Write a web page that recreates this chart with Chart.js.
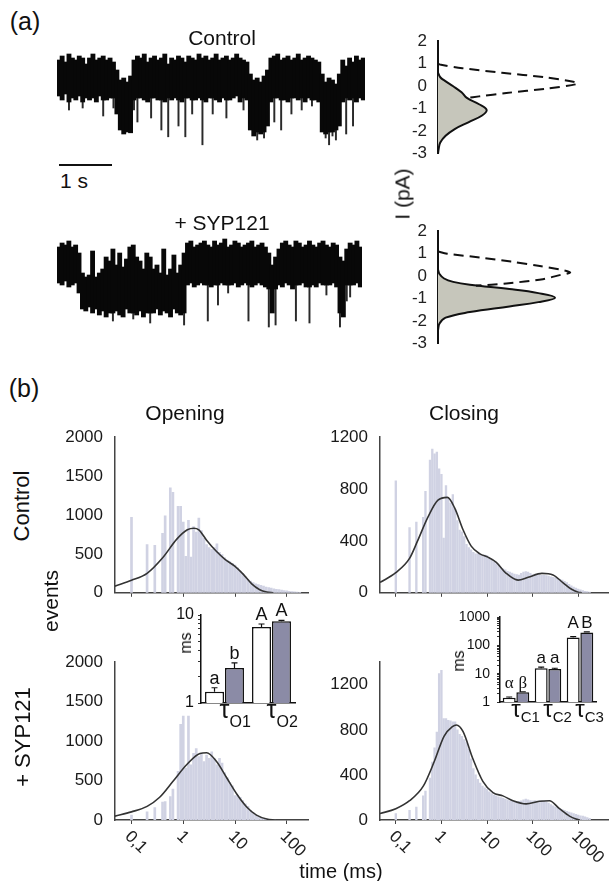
<!DOCTYPE html>
<html>
<head>
<meta charset="utf-8">
<script src="https://cdn.jsdelivr.net/npm/chart.js@4.4.1/dist/chart.umd.min.js"></script>
<style>
  body { margin: 0; background: #fff; }
  #fig { position: relative; width: 609px; height: 881px; overflow: hidden; font-family: "Liberation Sans", Arial, sans-serif; color: #111; }
  #fig canvas { position: absolute; }
  .t { position: absolute; white-space: nowrap; line-height: 1; transform: translate(-50%, -50%); }
</style>
</head>
<body>
<div id="fig">
  <canvas id="traceCtrl" width="308" height="120" style="left:57px;top:40px"></canvas>
  <canvas id="traceSyp" width="305" height="110" style="left:57px;top:230px"></canvas>
  <canvas id="gaussCtrl" width="200" height="155" style="left:400px;top:20px"></canvas>
  <canvas id="gaussSyp" width="200" height="155" style="left:400px;top:210px"></canvas>
  <canvas id="openCtrl" width="280" height="200" style="left:40px;top:415px"></canvas>
  <canvas id="closeCtrl" width="309" height="200" style="left:300px;top:415px"></canvas>
  <canvas id="openSyp" width="280" height="230" style="left:40px;top:640px"></canvas>
  <canvas id="closeSyp" width="309" height="230" style="left:300px;top:640px"></canvas>
  <canvas id="insetOpen" width="135" height="130" style="left:170px;top:600px"></canvas>
  <canvas id="insetClose" width="169" height="130" style="left:440px;top:600px"></canvas>
</div>
<script>
const FONT = '"Liberation Sans", Arial, sans-serif';
const SERIF = '"Liberation Serif", "DejaVu Serif", serif';
Chart.defaults.font.family = FONT;

// (a) single channel traces in pA: band top / band bottom / brief drops per time slice
const ctrlHi = [
  0.45,0.55,0.4,0.6,0.5,0.45,0.55,0.5,0.35,0.5,
  0.6,0.45,0.5,0.55,0.45,0.5,0.4,0.2,-0.05,0.0,
  -0.1,0.05,0.45,0.55,0.5,0.6,0.4,0.5,0.55,0.45,
  0.5,0.6,0.35,0.5,0.45,0.55,0.5,0.4,0.55,0.5,
  0.45,0.6,0.5,0.55,0.45,0.5,0.6,0.45,0.5,0.55,
  0.45,0.5,0.6,0.5,0.45,0.4,0.1,-0.05,0.0,-0.1,
  0.05,0.2,0.5,0.55,0.6,0.45,0.5,0.55,0.45,0.5,
  0.6,0.45,0.5,0.55,0.5,0.45,0.4,0.1,-0.1,0.0,
  -0.05,-0.15,0.1,0.45,0.3,0.5,0.4,0.55,0.45,0.5
];
const ctrlLo = [
  -0.45,-0.55,-0.4,-0.6,-0.5,-0.55,-0.45,-0.6,-0.5,-0.55,
  -0.5,-0.6,-0.45,-0.55,-0.55,-0.5,-0.5,-0.9,-1.3,-1.4,
  -1.35,-1.37,-0.55,-0.5,-0.5,-0.55,-0.6,-0.5,-0.5,-0.55,
  -0.55,-0.6,-0.5,-0.55,-0.5,-0.55,-0.6,-0.5,-0.5,-0.55,
  -0.55,-0.5,-0.55,-0.6,-0.5,-0.5,-0.55,-0.6,-0.5,-0.55,
  -0.55,-0.5,-0.45,-0.6,-0.5,-0.55,-1.3,-1.45,-1.35,-1.4,
  -1.35,-1.2,-0.6,-0.5,-0.5,-0.55,-0.55,-0.6,-0.5,-0.5,
  -0.55,-0.5,-0.6,-0.5,-0.55,-0.55,-0.6,-1.35,-1.4,-1.35,
  -1.35,-1.3,-1.2,-0.6,-0.5,-0.55,-0.5,-0.6,-0.5,-0.55
];
const ctrlDrop = [
  null,null,null,-0.8,null,null,null,-0.75,null,null,
  null,null,null,-0.95,null,null,-0.75,null,null,null,
  null,null,-0.8,-1.1,null,null,null,-1.0,null,null,
  -1.3,null,-1.47,null,null,-1.2,null,-1.47,null,-0.9,
  null,null,-1.67,null,null,-0.9,null,null,null,-1.0,
  null,null,null,null,-0.8,null,null,null,-1.55,null,
  -1.5,null,null,-1.1,null,-1.3,null,null,-0.9,null,
  null,-0.8,null,null,-0.7,null,null,null,-1.5,-1.67,
  -1.45,-1.55,null,null,-1.4,null,-1.2,null,null,null
];
const sypHi = [
  0.45,0.55,0.5,0.6,0.45,0.5,0.3,-0.2,-0.3,-0.25,
  0.35,-0.3,-0.2,-0.1,0.2,0.1,0.4,0.0,0.3,-0.05,
  0.15,0.45,0.5,0.2,0.1,-0.1,0.3,0.2,-0.1,0.0,
  -0.2,0.4,-0.25,-0.1,0.25,-0.2,0.0,0.3,0.55,0.6,
  0.45,0.5,0.55,0.6,0.5,0.45,0.6,0.5,0.55,0.65,
  0.45,0.5,0.6,0.55,0.45,0.5,0.55,0.6,0.45,0.5,
  0.55,0.45,0.3,0.0,0.2,0.4,0.55,0.6,0.5,0.45,
  0.6,0.55,0.45,0.5,0.6,0.5,0.45,0.55,0.6,0.5,
  0.45,0.55,0.5,0.2,0.1,0.4,0.55,0.5,0.6,0.45
];
const sypLo = [
  -0.45,-0.5,-0.4,-0.55,-0.5,-0.45,-0.7,-1.1,-1.15,-1.05,
  -1.2,-1.1,-1.25,-1.15,-1.3,-1.2,-1.2,-1.15,-1.25,-1.3,
  -1.1,-1.2,-1.2,-1.25,-1.15,-1.3,-1.2,-1.2,-1.2,-1.1,
  -1.25,-1.15,-1.2,-1.3,-1.1,-1.2,-1.25,-1.2,-0.5,-0.45,
  -0.55,-0.5,-0.45,-0.5,-0.5,-0.55,-0.5,-0.5,-0.45,-0.5,
  -0.5,-0.5,-0.45,-0.55,-0.5,-0.45,-0.5,-0.55,-0.5,-0.45,
  -0.5,-0.55,-0.6,-1.2,-0.6,-0.5,-0.55,-0.45,-0.5,-0.6,
  -0.5,-0.5,-0.45,-0.55,-0.55,-0.5,-0.55,-0.45,-0.5,-0.5,
  -0.5,-0.45,-0.55,-1.2,-1.3,-0.5,-0.5,-0.5,-0.45,-0.55
];
const sypDrop = [
  null,null,null,null,null,null,null,null,null,null,
  null,null,null,null,null,null,-1.4,null,null,null,
  null,null,-1.35,null,null,null,null,-1.45,null,null,
  null,null,null,null,null,null,null,-1.5,null,null,
  null,null,null,null,-1.4,null,null,-1.0,null,null,
  -0.7,null,null,null,null,null,-1.4,null,null,null,
  null,null,-1.55,null,-1.5,null,null,null,null,null,
  -1.4,null,null,null,-1.45,null,null,null,null,-0.75,
  null,null,null,-1.55,null,-0.9,-0.8,null,null,null
];

// amplitude histograms (current in pA vs. relative density)
const gCtrlDashI = [1.0,0.95,0.8,0.6,0.4,0.2,0.12,0.05,-0.1,-0.3,-0.45,-0.52];
const gCtrlDashD = [0,0.02,0.16,0.42,0.7,0.89,0.92,0.88,0.72,0.45,0.27,0.19];
const gCtrlFillI = [0.6,0.4,0.24,0.0,-0.27,-0.52,-0.8,-1.05,-1.3,-1.6,-1.9,-2.2,-2.5,-2.8,-3.0];
const gCtrlFillD = [0,0.015,0.046,0.1,0.155,0.19,0.27,0.32,0.29,0.2,0.11,0.05,0.015,0.004,0];
const gSypDashI = [1.1,1.0,0.83,0.65,0.45,0.3,0.17,0.05,-0.13,-0.32,-0.42];
const gSypDashD = [0,0.06,0.28,0.48,0.67,0.8,0.87,0.8,0.69,0.45,0.25];
const gSypFillI = [0.3,0.1,-0.1,-0.25,-0.38,-0.57,-0.75,-0.95,-1.15,-1.34,-1.59,-1.84,-2.1,-2.4];
const gSypFillD = [0,0.01,0.04,0.1,0.21,0.47,0.66,0.77,0.66,0.47,0.21,0.05,0.01,0];

// (b) dwell time histograms, bin centres in ms (20 per decade)
const binMs = [
  0.1,0.112,0.126,0.141,0.158,0.178,0.2,0.224,0.251,0.282,
  0.316,0.355,0.398,0.447,0.501,0.562,0.631,0.708,0.794,0.891,
  1,1.12,1.26,1.41,1.58,1.78,2,2.24,2.51,2.82,
  3.16,3.55,3.98,4.47,5.01,5.62,6.31,7.08,7.94,8.91,
  10,11.2,12.6,14.1,15.8,17.8,20,22.4,25.1,28.2,
  31.6,35.5,39.8,44.7,50.1,56.2,63.1,70.8,79.4,89.1,
  100,112,126,141,158,178,200,224,251,282,
  316,355,398,447,501,562,631,708,794,891,
  1000,1120,1260,1410,1580,1780
];
const openCtrlN = [
  970,0,0,0,0,0,620,0,0,610,
  0,0,765,990,0,1350,1290,0,1110,1110,
  910,470,930,460,850,780,960,800,700,620,
  580,560,580,630,520,490,450,420,400,380,
  355,320,280,250,210,170,150,130,115,105,
  95,85,75,68,60,52,45,40,35,30,
  25,20,15,12,8,5
];
const closeCtrlN = [
  864,0,0,0,0,0,503,0,0,545,
  0,0,582,783,0,1023,1109,1072,1085,957,
  913,422,827,729,692,758,643,557,484,471,
  434,373,349,331,312,300,300,295,287,290,
  287,263,250,238,225,213,194,185,177,165,
  160,152,145,140,137,150,160,164,160,150,
  140,145,140,137,135,135,132,128,124,120,
  115,110,104,98,88,79,65,54,44,37,
  29,22,17,12,9,6
];
const openSypN = [
  62,0,0,0,0,0,103,0,0,156,
  0,0,226,235,0,296,391,0,617,1214,
  1317,658,1317,700,844,905,803,844,741,823,
  782,864,782,700,782,720,597,535,473,432,
  309,309,288,247,206,173,124,90,62,41,
  30,21,15,10,6,4
];
const closeSypN = [
  57,0,0,0,0,0,86,0,0,114,
  0,0,214,257,0,371,514,640,780,1300,
  1328,900,900,885,880,871,871,800,760,743,
  714,686,628,543,457,400,360,328,300,285,
  271,250,235,222,214,205,200,195,186,178,
  171,165,157,157,165,171,180,186,178,172,
  171,172,170,168,171,166,160,150,137,125,
  114,107,100,93,86,78,71,64,57,50,
  43,38,34,28,22,14
];

// fitted curves
const openCtrlFitT = [0.048,0.1,0.2,0.4,0.75,1.2,1.6,2.0,2.8,4.4,6.4,10,14.5,21,30,41,55];
const openCtrlFitN = [85,160,250,450,690,810,830,810,680,530,430,340,237,115,40,10,0];
const closeCtrlFitT = [0.045,0.1,0.2,0.3,0.5,0.84,1.35,1.95,3,4.5,7,10.5,16,26,48,80,160,280,460,700,1000,1200];
const closeCtrlFitN = [80,155,265,400,580,715,736,655,484,360,300,275,235,152,98,120,150,138,79,29,5,0];
const openSypFitT = [0.048,0.1,0.2,0.35,0.64,1.16,2.1,2.83,4.4,6.9,10.8,16.8,26,41,60];
const openSypFitN = [49,103,173,288,494,700,844,852,741,535,329,165,62,12,0];
const closeSypFitT = [0.045,0.1,0.2,0.4,0.69,1.14,1.74,2.13,2.97,4.9,8.1,13.5,22.3,37,72,141,234,388,645,895,1100];
const closeSypFitN = [57,100,171,300,514,743,828,843,786,543,343,243,214,171,143,166,171,100,34,9,0];

const decadesOpen = [0.1, 1, 10, 100];
const decadesClose = [0.1, 1, 10, 100, 1000];
const decadeLabels = ['0,1', '1', '10', '100', '1000'];

// insets: time constants (ms), control vs + SYP121
const openTau = ['O1', 'O2'];
const openTauCtrl = [1.34, 7.3];
const openTauSyp = [2.5, 8.5];
const openTauCtrlErr = [0.15, 0.6];
const openTauSypErr = [0.35, 0.2];
const openLetters = [['a', 'A'], ['b', 'A']];
const closeTau = ['C1', 'C2', 'C3'];
const closeTauCtrl = [1.4, 15.5, 190];
const closeTauSyp = [2.2, 14.5, 285];
const closeTauCtrlErr = [0.1, 1.5, 12];
const closeTauSypErr = [0.1, 1.0, 15];
const closeLetters = [['α', 'a', 'A'], ['β', 'a', 'B']];
const openInsetTicks = [1,2,3,4,5,6,7,8,9,10];
const closeInsetTicks = [1,2,3,4,5,6,7,8,9,10,20,30,40,50,60,70,80,90,100,200,300,400,500,600,700,800,900,1000];

const pts = (xs, ys) => xs.map((x, i) => ({x: x, y: ys[i]}));

//----- traces: dense band as floating bars, brief closures as thin bars
function trace(id, hi, lo, drop, yMin, yMax) {
  new Chart(id, {
    type: 'bar',
    data: {
      labels: hi.map((_, i) => i),
      datasets: [
        { data: hi.map((v, i) => [lo[i], v]), backgroundColor: '#080808', borderWidth: 0,
          barThickness: 4.2, grouped: false },
        { data: drop.map((v, i) => (v === null ? null : [v, lo[i]])), backgroundColor: '#2a2a2a', borderWidth: 0,
          barThickness: 1.3, grouped: false }
      ]
    },
    options: {
      responsive: false, animation: false, events: [],
      layout: { padding: 0 },
      plugins: { legend: { display: false }, tooltip: { enabled: false } },
      scales: {
        x: { display: false },
        y: { display: false, min: yMin, max: yMax }
      }
    }
  });
}
trace('traceCtrl', ctrlHi, ctrlLo, ctrlDrop, -2.05, 0.95);
trace('traceSyp', sypHi, sypLo, sypDrop, -1.875, 0.875);

//----- amplitude gaussians
function gauss(id, dashI, dashD, fillI, fillD) {
  new Chart(id, {
    type: 'scatter',
    data: {
      datasets: [
        { data: pts(dashD, dashI), showLine: true, borderColor: '#111', borderWidth: 2, borderDash: [10, 6], pointRadius: 0, tension: 0.3, fill: false },
        { data: pts(fillD, fillI), showLine: true, borderColor: '#111', borderWidth: 2, pointRadius: 0, tension: 0.4, fill: 'shape', backgroundColor: '#c6c6bb' }
      ]
    },
    options: {
      responsive: false, animation: false, events: [],
      layout: { padding: { top: 12, right: 10, bottom: 12, left: 0 } },
      plugins: { legend: { display: false }, tooltip: { enabled: false } },
      scales: {
        x: { display: false, min: 0, max: 1 },
        y: {
          min: -3, max: 2,
          afterFit: s => { s.width = 38; },
          ticks: { stepSize: 1, font: { size: 17 }, color: '#222', padding: 11 },
          grid: { display: false, drawTicks: false },
          border: { color: '#111', width: 2 }
        }
      }
    }
  });
}
gauss('gaussCtrl', gCtrlDashI, gCtrlDashD, gCtrlFillI, gCtrlFillD);
gauss('gaussSyp', gSypDashI, gSypDashD, gSypFillI, gSypFillD);

//----- dwell time histograms
function rotTicks(values) {
  return {
    id: 'rotTicks',
    afterDraw(chart) {
      const {ctx, chartArea} = chart;
      const x = chart.scales.x;
      ctx.save();
      ctx.font = '17px ' + FONT;
      ctx.fillStyle = '#222';
      ctx.textAlign = 'left';
      ctx.textBaseline = 'middle';
      values.forEach((v, i) => {
        ctx.save();
        ctx.translate(x.getPixelForValue(v) - 4, chartArea.bottom + 14);
        ctx.rotate(Math.PI / 4);
        ctx.fillText(decadeLabels[i], 0, 0);
        ctx.restore();
      });
      ctx.restore();
    }
  };
}

function histo(id, counts, fitT, fitN, box) {
  const bars = [];
  counts.forEach((n, i) => { if (n > 0) bars.push({x: binMs[i], y: n}); });
  new Chart(id, {
    type: 'bar',
    data: {
      datasets: [
        { type: 'line', data: pts(fitT, fitN), borderColor: '#333', borderWidth: 1.6, pointRadius: 0, cubicInterpolationMode: 'monotone', order: 0 },
        { type: 'bar', data: bars, backgroundColor: '#d0d2e3', borderWidth: 0, barThickness: box.bar, order: 1 }
      ]
    },
    options: {
      responsive: false, animation: false, events: [],
      layout: { padding: { top: box.padTop, right: box.padRight, left: 0, bottom: 0 } },
      plugins: { legend: { display: false }, tooltip: { enabled: false } },
      scales: {
        x: {
          type: 'logarithmic', min: box.xMin, max: box.xMax, offset: false,
          afterBuildTicks: s => { s.ticks = box.decades.map(v => ({value: v})); },
          afterFit: s => { s.height = box.xh; },
          ticks: { display: false },
          grid: { display: true, offset: false, drawOnChartArea: false, tickLength: 4, color: '#444' },
          border: { color: '#444', width: 1.5 }
        },
        y: {
          min: 0, max: box.yMax,
          afterBuildTicks: s => { s.ticks = box.yTicks.map(v => ({value: v})); },
          afterFit: s => { s.width = box.yw; },
          ticks: { font: { size: 17 }, color: '#1a1a1a', padding: 12, callback: v => String(v) },
          grid: { display: false, drawTicks: false },
          border: { color: '#444', width: 1.5 }
        }
      }
    },
    plugins: box.labels ? [rotTicks(box.decades)] : []
  });
}

const leftBox = { xMin: 0.048, xMax: 257, decades: decadesOpen, yw: 75, padRight: 12, bar: 2 };
const rightBox = { xMin: 0.045, xMax: 4500, decades: decadesClose, yw: 80, padRight: 1, bar: 1.7 };
histo('openCtrl', openCtrlN, openCtrlFitT, openCtrlFitN,
  Object.assign({}, leftBox, { yMax: 2000, yTicks: [0, 500, 1000, 1500, 2000], padTop: 17, xh: 19 }));
histo('closeCtrl', closeCtrlN, closeCtrlFitT, closeCtrlFitN,
  Object.assign({}, rightBox, { yMax: 1200, yTicks: [0, 400, 800, 1200], padTop: 17, xh: 20 }));
histo('openSyp', openSypN, openSypFitT, openSypFitN,
  Object.assign({}, leftBox, { yMax: 2000, yTicks: [0, 500, 1000, 1500, 2000], padTop: 18, xh: 50, labels: true }));
histo('closeSyp', closeSypN, closeSypFitT, closeSypFitN,
  Object.assign({}, rightBox, { yMax: 1400, yTicks: [0, 400, 800, 1200], padTop: 17, xh: 50, labels: true }));

//----- insets with time constants
function tauInset(id, cats, ctrl, syp, errs, letters, box) {
  const vals = [ctrl, syp];
  const marks = {
    id: 'marks',
    afterDatasetsDraw(chart) {
      const {ctx} = chart;
      const x = chart.scales.x, y = chart.scales.y;
      const tops = vals.map((vs, d) => vs.map((v, i) => y.getPixelForValue(v + errs[d][i])));
      ctx.save();
      ctx.strokeStyle = '#111';
      ctx.fillStyle = '#111';
      ctx.lineWidth = 1.2;
      vals.forEach((vs, d) => {
        chart.getDatasetMeta(d).data.forEach((bar, i) => {
          const top = tops[d][i];
          ctx.beginPath();
          ctx.moveTo(bar.x, bar.y);
          ctx.lineTo(bar.x, top);
          ctx.moveTo(bar.x - 3, top);
          ctx.lineTo(bar.x + 3, top);
          ctx.stroke();
          const ch = letters[d][i];
          const greek = /[α-ω]/.test(ch);
          ctx.font = box.letterSize + 'px ' + (greek ? SERIF : FONT);
          ctx.textAlign = 'center';
          ctx.textBaseline = 'alphabetic';
          const base = box.sameRow ? Math.min(tops[0][i], tops[1][i]) : top;
          ctx.fillText(ch, bar.x, base - 4);
        });
      });
      // tau + subscript under each group
      cats.forEach((c, i) => {
        const cx = x.getPixelForValue(i);
        ctx.font = box.tauSize + 'px ' + FONT;
        ctx.textAlign = 'center';
        ctx.fillText('τ', cx, box.tauBase);
        const w = ctx.measureText('τ').width;
        ctx.font = box.subSize + 'px ' + FONT;
        ctx.textAlign = 'left';
        ctx.fillText(c, cx + w / 2, box.subBase);
      });
      ctx.restore();
    }
  };
  new Chart(id, {
    type: 'bar',
    data: {
      labels: cats,
      datasets: [
        { data: ctrl, backgroundColor: '#ffffff', borderColor: '#111', borderWidth: 1.5 },
        { data: syp, backgroundColor: '#8b8ba6', borderColor: '#111', borderWidth: 1.5 }
      ]
    },
    options: {
      responsive: false, animation: false, events: [],
      layout: { padding: { top: box.padTop, right: box.padRight, left: 0, bottom: 0 } },
      datasets: { bar: { categoryPercentage: 0.85, barPercentage: 0.95 } },
      plugins: { legend: { display: false }, tooltip: { enabled: false } },
      scales: {
        x: {
          afterFit: s => { s.height = box.xh; },
          ticks: { display: false },
          grid: { display: false },
          border: { color: '#111', width: 1.5 }
        },
        y: {
          type: 'logarithmic', min: 1, max: box.yMax,
          afterBuildTicks: s => { s.ticks = box.ticks.map(v => ({value: v})); },
          afterFit: s => { s.width = box.yw; },
          ticks: {
            autoSkip: false, font: { size: box.tickSize }, color: '#111', padding: box.tickPad,
            callback: v => ([1, 10, 100, 1000].includes(v) ? String(v) : '')
          },
          grid: { drawOnChartArea: false, tickLength: 3, color: '#333' },
          border: { color: '#111', width: 1.5 }
        }
      }
    },
    plugins: [marks]
  });
}
tauInset('insetOpen', openTau, openTauCtrl, openTauSyp, [openTauCtrlErr, openTauSypErr], openLetters,
  { yMax: 10, ticks: openInsetTicks, yw: 31, xh: 27, padTop: 15, padRight: 10, tickSize: 16, tickPad: 4,
    letterSize: 18, sameRow: false, tauSize: 25, subSize: 16, tauBase: 118, subBase: 127 });
tauInset('insetClose', closeTau, closeTauCtrl, closeTauSyp, [closeTauCtrlErr, closeTauSypErr], closeLetters,
  { yMax: 1000, ticks: closeInsetTicks, yw: 60, xh: 28, padTop: 17, padRight: 13, tickSize: 14, tickPad: 7,
    letterSize: 17, sameRow: true, tauSize: 24, subSize: 15, tauBase: 117, subBase: 122 });

//----- text
const fig = document.getElementById('fig');
function addText(txt, x, y, size, rot) {
  const d = document.createElement('div');
  d.className = 't';
  d.textContent = txt;
  d.style.left = x + 'px';
  d.style.top = y + 'px';
  d.style.fontSize = size + 'px';
  if (rot) d.style.transform = 'translate(-50%, -50%) rotate(' + rot + 'deg)';
  fig.appendChild(d);
}
addText('(a)', 25, 21, 25);
addText('Control', 222, 37, 21);
addText('1 s', 74, 180, 21);
addText('+ SYP121', 222, 222, 21);
addText('I (pA)', 402, 194, 21, -90);
addText('(b)', 24, 388, 25);
addText('Opening', 185, 412, 21);
addText('Closing', 464, 412, 21);
addText('Control', 22, 506, 22, -90);
addText('events', 50, 601, 21, -90);
addText('+ SYP121', 23, 737, 22, -90);
addText('time (ms)', 341, 871, 20);
addText('ms', 186, 643, 16, -90);
addText('ms', 459, 661, 16, -90);

// 1 s scale bar
const bar = document.createElement('div');
bar.style.cssText = 'position:absolute;left:59px;top:164px;width:53px;height:1.5px;background:#111';
fig.appendChild(bar);
</script>
</body>
</html>
